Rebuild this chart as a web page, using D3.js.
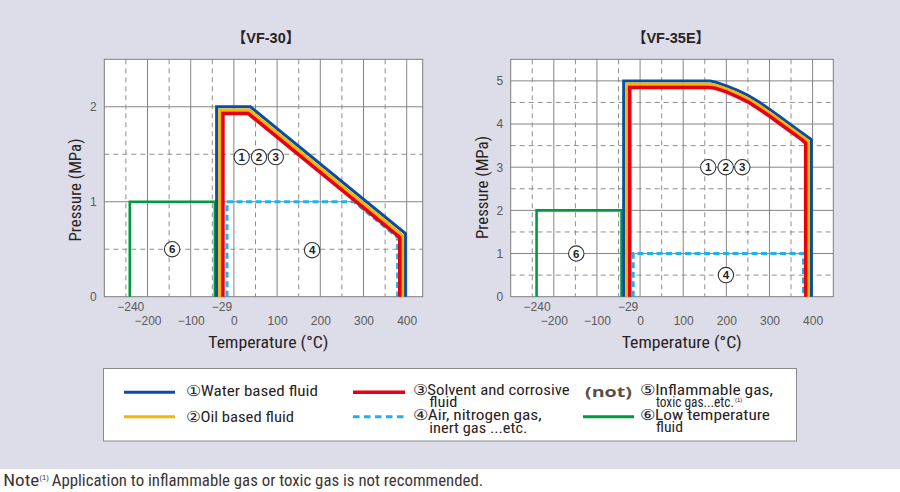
<!DOCTYPE html>
<html><head><meta charset="utf-8">
<script src="https://cdn.jsdelivr.net/npm/d3@7"></script>
<style>body{margin:0;background:#fff}svg{display:block}</style>
</head><body>
<svg id="c" width="900" height="492"></svg>
<script>
// ---------------- DATA ----------------
const chartTitles = ["【VF-30】", "【VF-35E】"];
const xAxisTitle = "Temperature (°C)";
const yAxisTitle = "Pressure (MPa)";
const xTickRow1 = [-240, -29];
const xTickRow2 = [-200, -100, 0, 100, 200, 300, 400];
const xGridMajor = [-200, -100, 0, 100, 200, 300, 400];
const xGridMinor = [-250, -150, -50, 50, 150, 250, 350];

const vf30XDomain = [-300, 437];
const vf30YDomain = [0, 2.5];
const vf30YTicks = [0, 1, 2];
const vf30YGridMajor = [1, 2];
const vf30YGridMinor = [0.5, 1.5];

const vf35XDomain = [-300, 448];
const vf35YDomain = [0, 5.5];
const vf35YTicks = [0, 1, 2, 3, 4, 5];
const vf35YGridMajor = [1, 2, 3, 4, 5];
const vf35YGridMinor = [0.5, 1.5, 2.5, 3.5, 4.5];

// VF-30 series  [temperature °C, pressure MPa]
const vf30Water   = [[-40,0],[-40,2.0],[38,2.0],[397,0.665],[397,0]];
const vf30Oil     = [[-33,0],[-33,1.966],[35.4,1.966],[390.5,0.646],[390.5,0]];
const vf30Solvent = [[-25.5,0],[-25.5,1.931],[32.8,1.931],[384,0.625],[384,0]];
const vf30Gas     = [[-16,0],[-16,1.0],[278,1.0],[379,0.624],[379,0]];
const vf30LowTemp = [[-241,0],[-241,1.0],[-44,1.0],[-44,0]];
const vf30Marks   = [["1",18,1.47],["2",58,1.47],["3",97,1.47],["4",181,0.49],["6",-143,0.5]];

// VF-35E series
const vf35Water   = [[-38,0],[-38,5.0],[162,5.0],[175,4.97],[200,4.885],[225,4.785],[250,4.665],[275,4.515],[300,4.345],[325,4.165],[350,3.98],[375,3.80],[397,3.64],[397,0]];
const vf35Oil     = [[-31,0],[-31,4.926],[160,4.926],[175,4.90],[200,4.815],[225,4.71],[250,4.59],[275,4.435],[300,4.265],[325,4.085],[350,3.90],[375,3.72],[390.5,3.60],[390.5,0]];
const vf35Solvent = [[-24,0],[-24,4.85],[158,4.85],[175,4.83],[200,4.745],[225,4.635],[250,4.515],[275,4.355],[300,4.185],[325,4.0],[350,3.82],[375,3.64],[384,3.56],[384,0]];
const vf35Gas     = [[-16,0],[-16,1.0],[379,1.0],[379,0]];
const vf35LowTemp = [[-240,0],[-240,2.0],[-43,2.0],[-43,0]];
const vf35Marks   = [["1",158,3.0],["2",198.5,3.0],["3",237,3.0],["6",-148,1.0],["4",199,0.5]];

const legendLabels = [
  ["①Water based fluid"],
  ["②Oil based fluid"],
  ["③Solvent and corrosive", "fluid"],
  ["④Air, nitrogen gas,", "inert gas ...etc."],
  ["⑤Inflammable gas,", "toxic gas...etc."],
  ["⑥Low temperature", "fluid"]
];
const notLabel = "(not)";
const noteText = ["Note", "(1)", "Application to inflammable gas or toxic gas is not recommended."];

// ---------------- STYLE ----------------
const C = {water:"#0a4ea2", oil:"#f7b500", solvent:"#e60012", gas:"#1fb2ea", low:"#009a3e"};
const NARROW = "'Liberation Sans Narrow','Roboto Condensed','Arial Narrow','Liberation Sans',Arial,sans-serif";
const TEXTC = "#2a2222";

const svg = d3.select("#c");
svg.append("rect").attr("width",900).attr("height",492).attr("fill","#fff");
svg.append("rect").attr("width",900).attr("height",469).attr("fill","#dcdde8");

function drawChart(cfg){
  const g = svg.append("g");
  const x = d3.scaleLinear().domain(cfg.xDomain).range([cfg.left, cfg.right]);
  const y = d3.scaleLinear().domain(cfg.yDomain).range([cfg.bottom, cfg.top]);
  g.append("rect").attr("x",cfg.left).attr("y",cfg.top)
    .attr("width",cfg.right-cfg.left).attr("height",cfg.bottom-cfg.top).attr("fill","#fff");
  // minor grid
  g.selectAll(".vx").data(xGridMinor).join("line")
    .attr("x1",d=>x(d)).attr("x2",d=>x(d)).attr("y1",cfg.top).attr("y2",cfg.bottom)
    .attr("stroke","#8f8f8f").attr("stroke-width",1).attr("stroke-dasharray","5,4");
  g.selectAll(".vy").data(cfg.yMinor).join("line")
    .attr("y1",d=>y(d)).attr("y2",d=>y(d)).attr("x1",cfg.left).attr("x2",cfg.right)
    .attr("stroke","#8f8f8f").attr("stroke-width",1).attr("stroke-dasharray","5,4");
  // major grid
  g.selectAll(".mx").data(xGridMajor).join("line")
    .attr("x1",d=>x(d)).attr("x2",d=>x(d)).attr("y1",cfg.top).attr("y2",cfg.bottom)
    .attr("stroke","#858585").attr("stroke-width",1);
  g.selectAll(".my").data(cfg.yMajor).join("line")
    .attr("y1",d=>y(d)).attr("y2",d=>y(d)).attr("x1",cfg.left).attr("x2",cfg.right)
    .attr("stroke","#858585").attr("stroke-width",1);
  g.append("rect").attr("x",cfg.left).attr("y",cfg.top)
    .attr("width",cfg.right-cfg.left).attr("height",cfg.bottom-cfg.top)
    .attr("fill","none").attr("stroke","#7d7d7d").attr("stroke-width",1);

  const line = d3.line().x(d=>x(d[0])).y(d=>y(d[1]));
  const series = [
    [cfg.low, C.low, 2.6, null],
    [cfg.gas, C.gas, 3, "6,3.5"],
    [cfg.water, C.water, 3, null],
    [cfg.oil, C.oil, 3, null],
    [cfg.solvent, C.solvent, 3.6, null]
  ];
  series.forEach(s=>{
    g.append("path").datum(s[0]).attr("d",line).attr("fill","none")
      .attr("stroke",s[1]).attr("stroke-width",s[2])
      .attr("stroke-linejoin","miter").attr("stroke-dasharray",s[3]);
  });

  // circled markers
  const mk = g.selectAll(".mk").data(cfg.marks).join("g")
    .attr("transform",d=>`translate(${x(d[1])},${y(d[2])})`);
  mk.append("circle").attr("r",7.7).attr("fill","#fff").attr("stroke","#333").attr("stroke-width",1.1);
  mk.append("text").text(d=>d[0]).attr("text-anchor","middle").attr("dy","0.36em")
    .attr("font-family","'Liberation Sans',Arial,sans-serif").attr("font-weight","bold")
    .attr("font-size",11.5).attr("fill","#222");

  // axes
  const ax1 = g.append("g").attr("transform",`translate(0,${cfg.bottom+13.8})`)
    .call(d3.axisBottom(x).tickValues(xTickRow1).tickSize(0).tickFormat(d3.format("d")));
  const ax2 = g.append("g").attr("transform",`translate(0,${cfg.bottom+28.3})`)
    .call(d3.axisBottom(x).tickValues(xTickRow2).tickSize(0).tickFormat(d3.format("d")));
  [ax1,ax2].forEach(a=>{
    a.select(".domain").remove();
    a.selectAll("text").attr("y",0).attr("dy",null)
      .attr("font-family","'Liberation Sans',Arial,sans-serif").attr("font-size",12).attr("fill","#5a5a5a");
  });
  const ay = g.append("g").attr("transform",`translate(${cfg.left},0)`)
    .call(d3.axisLeft(y).tickValues(cfg.yTicks).tickSize(0).tickPadding(7.5).tickFormat(d3.format("d")));
  ay.select(".domain").remove();
  ay.selectAll("text").attr("font-family","'Liberation Sans',Arial,sans-serif").attr("font-size",12).attr("fill","#5a5a5a");

  // titles
  g.append("text").text(cfg.title).attr("x",cfg.titleX).attr("y",42.7).attr("text-anchor","middle")
    .attr("font-family","'Liberation Sans','Noto Sans CJK JP',Arial,sans-serif")
    .attr("font-weight","bold").attr("font-size",14.5).attr("fill",TEXTC);
  g.append("text").text(xAxisTitle).attr("x",cfg.xTitleX-60).attr("y",348.3)
    .attr("font-family",NARROW).attr("font-size",17).attr("fill",TEXTC)
    .attr("textLength",120).attr("lengthAdjust","spacingAndGlyphs");
  g.append("text").text(yAxisTitle)
    .attr("transform",`translate(${cfg.yTitleX},${cfg.yTitleY}) rotate(-90)`)
    .attr("x",-51.5).attr("y",0)
    .attr("font-family",NARROW).attr("font-size",17).attr("fill",TEXTC)
    .attr("textLength",103).attr("lengthAdjust","spacingAndGlyphs");
}

drawChart({title:chartTitles[0], left:104.3, right:422.7, top:59.3, bottom:296.7,
  xDomain:vf30XDomain, yDomain:vf30YDomain, yTicks:vf30YTicks, yMajor:vf30YGridMajor, yMinor:vf30YGridMinor,
  water:vf30Water, oil:vf30Oil, solvent:vf30Solvent, gas:vf30Gas, low:vf30LowTemp, marks:vf30Marks,
  titleX:266, xTitleX:268.3, yTitleX:81, yTitleY:190});
drawChart({title:chartTitles[1], left:510.7, right:833.3, top:59.3, bottom:296.7,
  xDomain:vf35XDomain, yDomain:vf35YDomain, yTicks:vf35YTicks, yMajor:vf35YGridMajor, yMinor:vf35YGridMinor,
  water:vf35Water, oil:vf35Oil, solvent:vf35Solvent, gas:vf35Gas, low:vf35LowTemp, marks:vf35Marks,
  titleX:671, xTitleX:681.7, yTitleX:488, yTitleY:187.5});

// ---------------- LEGEND ----------------
const lg = svg.append("g");
lg.append("rect").attr("x",103.5).attr("y",368.5).attr("width",693).attr("height",72.5)
  .attr("fill","#fff").attr("stroke","#8a8a8a").attr("stroke-width",1);
const legendSamples = [
  [124,175,392.3,C.water,3,null],
  [124,175,416.7,C.oil,3,null],
  [353,405,392.3,C.solvent,3.5,null],
  [353,405,416.7,C.gas,3,"6.5,4.5"],
  null,
  [583,634,416.7,C.low,3,null]
];
legendSamples.forEach(s=>{
  if(!s) return;
  lg.append("line").attr("x1",s[0]).attr("x2",s[1]).attr("y1",s[2]).attr("y2",s[2])
    .attr("stroke",s[3]).attr("stroke-width",s[4]).attr("stroke-dasharray",s[5]);
});
const legendPos = [
  [[186,395.5,132]],
  [[186,421.5,108]],
  [[412.7,395,157],[429.3,407,28]],
  [[412.7,420,129],[429.3,433,98]],
  [[640,395,133],[656,407,78]],
  [[640,419.5,130],[656,432,27]]
];
legendLabels.forEach((lines,i)=>{
  lines.forEach((t,j)=>{
    const p = legendPos[i][j];
    lg.append("text").text(t).attr("x",p[0]).attr("y",p[1])
      .attr("font-family",NARROW).attr("font-size",15).attr("fill",TEXTC)
      .attr("textLength",p[2]).attr("lengthAdjust","spacingAndGlyphs");
  });
});
lg.append("text").text("(1)").attr("x",735).attr("y",402)
  .attr("font-family","'Liberation Sans',Arial,sans-serif").attr("font-size",6).attr("fill",TEXTC);
lg.append("text").text(notLabel).attr("x",585).attr("y",396.7)
  .attr("font-family","'Open Sans','Liberation Sans',Arial,sans-serif").attr("font-weight","bold")
  .attr("font-size",15).attr("fill","#5e4d47")
  .attr("textLength",47).attr("lengthAdjust","spacingAndGlyphs");

// ---------------- NOTE ----------------
svg.append("text").text(noteText[0]).attr("x",3.3).attr("y",486)
  .attr("font-family",NARROW).attr("font-size",17).attr("fill","#3d3535")
  .attr("textLength",36).attr("lengthAdjust","spacingAndGlyphs");
svg.append("text").text(noteText[1]).attr("x",39.5).attr("y",479.5)
  .attr("font-family","'Liberation Sans',Arial,sans-serif").attr("font-size",7.5).attr("fill","#3d3535");
svg.append("text").text(noteText[2]).attr("x",51.7).attr("y",486)
  .attr("font-family",NARROW).attr("font-size",17).attr("fill","#3d3535")
  .attr("textLength",431.6).attr("lengthAdjust","spacingAndGlyphs");
</script>
</body></html>
